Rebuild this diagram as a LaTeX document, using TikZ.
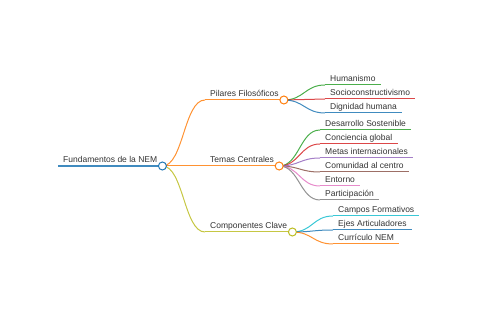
\documentclass[tikz,border=0pt]{standalone}
\usepackage{fontspec}
\setmainfont{Liberation Sans}

\definecolor{mmblue}{HTML}{1F77B4}
\definecolor{mmorange}{HTML}{FF7F0E}
\definecolor{mmgreen}{HTML}{2CA02C}
\definecolor{mmred}{HTML}{D62728}
\definecolor{mmpurple}{HTML}{9467BD}
\definecolor{mmbrown}{HTML}{8C564B}
\definecolor{mmpink}{HTML}{E377C2}
\definecolor{mmgray}{HTML}{7F7F7F}
\definecolor{mmolive}{HTML}{BCBD22}
\definecolor{mmcyan}{HTML}{17BECF}
\definecolor{textgray}{HTML}{333333}

\begin{document}
\begin{tikzpicture}[x=1pt, y=-1pt,
    topic/.style={anchor=south west, inner xsep=5pt, inner ysep=1pt,
        text height=6.5pt, text depth=2pt,
        font=\fontsize{8.5}{10}\selectfont, text=textgray},
    link/.style={line width=1pt, opacity=0.85},
    knob/.style={circle, draw, fill=white, line width=1pt,
        inner sep=0pt, minimum size=8pt}]
    \useasboundingbox (0,0) rectangle (480,320);

    % Root and main branches
    \node[topic] (root) at (58,166) {Fundamentos de la NEM};
    \node[topic] (pilares) at (205,100) {Pilares Filosóficos};
    \node[topic] (temas) at (205,166) {Temas Centrales};
    \node[topic] (comp) at (205,232) {Componentes Clave};

    % Leaves: Pilares Filosoficos
    \node[topic] (human) at (325,85) {Humanismo};
    \node[topic] (socio) at (325,99) {Socioconstructivismo};
    \node[topic] (dign) at (325,113) {Dignidad humana};

    % Leaves: Temas Centrales
    \node[topic] (desa) at (320,130) {Desarrollo Sostenible};
    \node[topic] (conc) at (320,144) {Conciencia global};
    \node[topic] (metas) at (320,158) {Metas internacionales};
    \node[topic] (comun) at (320,172) {Comunidad al centro};
    \node[topic] (ento) at (320,186) {Entorno};
    \node[topic] (part) at (320,200) {Participación};

    % Leaves: Componentes Clave
    \node[topic] (campos) at (333,216) {Campos Formativos};
    \node[topic] (ejes) at (333,230) {Ejes Articuladores};
    \node[topic] (curri) at (333,244) {Currículo NEM};

    % Links root -> branches
    \draw[link, mmorange] (root.south east) .. controls +(21,0) and +(-21,0) .. (pilares.south west);
    \draw[link, mmorange] (root.south east) .. controls +(21,0) and +(-21,0) .. (temas.south west);
    \draw[link, mmolive] (root.south east) .. controls +(21,0) and +(-21,0) .. (comp.south west);

    % Links branches -> leaves
    \draw[link, mmgreen] (pilares.south east) .. controls +(20,0) and +(-20,0) .. (human.south west);
    \draw[link, mmred] (pilares.south east) .. controls +(20,0) and +(-20,0) .. (socio.south west);
    \draw[link, mmblue] (pilares.south east) .. controls +(20,0) and +(-20,0) .. (dign.south west);

    \draw[link, mmgreen] (temas.south east) .. controls +(20,0) and +(-20,0) .. (desa.south west);
    \draw[link, mmred] (temas.south east) .. controls +(20,0) and +(-20,0) .. (conc.south west);
    \draw[link, mmpurple] (temas.south east) .. controls +(20,0) and +(-20,0) .. (metas.south west);
    \draw[link, mmbrown] (temas.south east) .. controls +(20,0) and +(-20,0) .. (comun.south west);
    \draw[link, mmpink] (temas.south east) .. controls +(20,0) and +(-20,0) .. (ento.south west);
    \draw[link, mmgray] (temas.south east) .. controls +(20,0) and +(-20,0) .. (part.south west);

    \draw[link, mmcyan] (comp.south east) .. controls +(20,0) and +(-20,0) .. (campos.south west);
    \draw[link, mmblue] (comp.south east) .. controls +(20,0) and +(-20,0) .. (ejes.south west);
    \draw[link, mmorange] (comp.south east) .. controls +(20,0) and +(-20,0) .. (curri.south west);

    % Underlines
    \draw[link, mmblue, line width=1.4pt] (root.south west) -- (root.south east);
    \draw[link, mmorange] (pilares.south west) -- (pilares.south east);
    \draw[link, mmorange] (temas.south west) -- (temas.south east);
    \draw[link, mmolive] (comp.south west) -- (comp.south east);
    \draw[link, mmgreen] (human.south west) -- (human.south east);
    \draw[link, mmred] (socio.south west) -- (socio.south east);
    \draw[link, mmblue] (dign.south west) -- (dign.south east);
    \draw[link, mmgreen] (desa.south west) -- (desa.south east);
    \draw[link, mmred] (conc.south west) -- (conc.south east);
    \draw[link, mmpurple] (metas.south west) -- (metas.south east);
    \draw[link, mmbrown] (comun.south west) -- (comun.south east);
    \draw[link, mmpink] (ento.south west) -- (ento.south east);
    \draw[link, mmgray] (part.south west) -- (part.south east);
    \draw[link, mmcyan] (campos.south west) -- (campos.south east);
    \draw[link, mmblue] (ejes.south west) -- (ejes.south east);
    \draw[link, mmorange] (curri.south west) -- (curri.south east);

    % Knobs
    \node[knob, draw=mmblue] (rootknob) at (root.south east) {};
    \node[knob, draw=mmorange] (pilaresknob) at (pilares.south east) {};
    \node[knob, draw=mmorange] (temasknob) at (temas.south east) {};
    \node[knob, draw=mmolive] (compknob) at (comp.south east) {};

\end{tikzpicture}
\end{document}
